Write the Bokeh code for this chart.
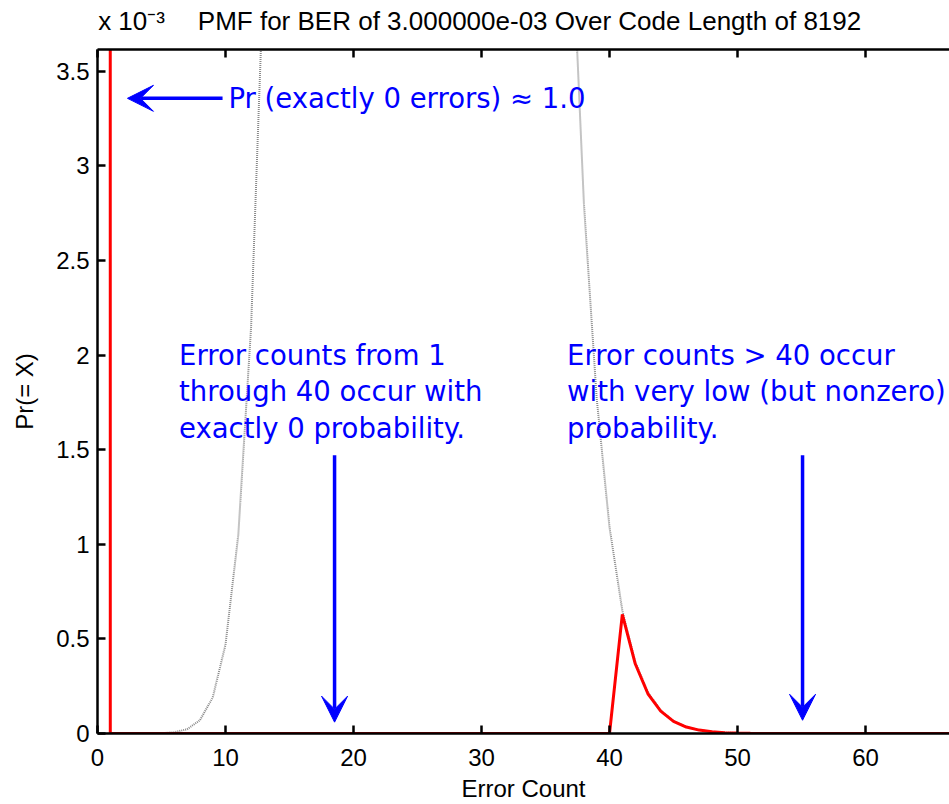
from bokeh.plotting import figure
from bokeh.models import (Range1d, LinearAxis, FixedTicker, CustomJSTickFormatter,
                          Label, Arrow, VeeHead)
from bokeh.embed import file_html
from bokeh.resources import INLINE

# ---------------- data ----------------
error_count = list(range(0, 68))

# grey dotted curve: full binomial PMF (values above the plot top are clipped)
binomial_pmf = [
    0.0, 0.0, 0.0, 0.0000001, 0.0000004, 0.0000016, 0.0000065, 0.0000227, 0.00007, 0.00019,
    0.00047, 0.00105, 0.00215, 0.00407, 0.00714, 0.0117, 0.0180, 0.0260, 0.0355, 0.0459,
    0.0564, 0.0660, 0.0737, 0.0787, 0.0806, 0.0793, 0.0750, 0.0682, 0.0599, 0.0507,
    0.0415, 0.0329, 0.0253, 0.0189, 0.0136, 0.00955, 0.00653, 0.00434, 0.00280, 0.00177,
    0.00109, 0.00065, 0.00038, 0.000218, 0.000122, 0.000066, 0.0000355, 0.0000185, 0.0000095, 0.0000048,
    0.0000023, 0.0000011, 0.0000005, 0.0000002, 0.0000001, 0.0, 0.0, 0.0, 0.0, 0.0,
    0.0, 0.0, 0.0, 0.0, 0.0, 0.0, 0.0, 0.0,
]

# red curve: PMF with 1..40 errors forced to zero
observed_pmf = [
    1.0, 0.0, 0.0, 0.0, 0.0, 0.0, 0.0, 0.0, 0.0, 0.0,
    0.0, 0.0, 0.0, 0.0, 0.0, 0.0, 0.0, 0.0, 0.0, 0.0,
    0.0, 0.0, 0.0, 0.0, 0.0, 0.0, 0.0, 0.0, 0.0, 0.0,
    0.0, 0.0, 0.0, 0.0, 0.0, 0.0, 0.0, 0.0, 0.0, 0.0,
    0.0, 0.00063, 0.00037, 0.00021, 0.000118, 0.000064, 0.000034, 0.000018, 0.0000092, 0.0000046,
    0.0000022, 0.0000011, 0.0000005, 0.0000002, 0.0000001, 0.0, 0.0, 0.0, 0.0, 0.0,
    0.0, 0.0, 0.0, 0.0, 0.0, 0.0, 0.0, 0.0,
]

x_ticks = [0, 10, 20, 30, 40, 50, 60]
y_ticks = [0, 0.0005, 0.001, 0.0015, 0.002, 0.0025, 0.003, 0.0035]

title_text = "PMF for BER of 3.000000e-03 Over Code Length of 8192"
exponent_text = "x 10\u207b\u00b3"
x_label = "Error Count"
y_label = "Pr(= X)"
note_zero = "Pr (exactly 0 errors) \u2248 1.0"
note_mid = ["Error counts from 1", "through 40 occur with", "exactly 0 probability."]
note_right = ["Error counts > 40 occur", "with very low (but nonzero)", "probability."]

# ---------------- figure ----------------
FONT = "Liberation Sans"
NOTE_FONT = "DejaVu Sans"
BLUE = "#0000ff"

p = figure(width=949, height=804, output_backend="svg", toolbar_location=None,
           title=None,
           x_range=Range1d(0, 66.56), y_range=Range1d(0, 0.003615),
           min_border_left=97, min_border_right=0, min_border_top=49, min_border_bottom=71)
p.background_fill_color = "white"
p.border_fill_color = "white"
p.outline_line_color = None
p.grid.visible = False

p.line(error_count, binomial_pmf, line_color="#8a8a8a", line_width=2, line_dash="1 1")
p.line(error_count, observed_pmf, line_color="#ff0000", line_width=3)


def style_axis(ax):
    ax.axis_line_color = "black"
    ax.axis_line_width = 2.5
    ax.major_tick_line_color = "black"
    ax.major_tick_line_width = 2.5
    ax.major_tick_in = 8
    ax.major_tick_out = 0
    ax.minor_tick_line_color = None
    ax.major_label_text_font = FONT
    ax.major_label_text_font_size = "24px"
    ax.major_label_text_color = "black"


xa = p.xaxis[0]
style_axis(xa)
xa.ticker = FixedTicker(ticks=x_ticks)
xa.major_label_standoff = 15
xa.axis_label = x_label
xa.axis_label_text_font = FONT
xa.axis_label_text_font_size = "24px"
xa.axis_label_text_font_style = "normal"
xa.axis_label_text_color = "black"
xa.axis_label_standoff = 6

ya = p.yaxis[0]
style_axis(ya)
ya.ticker = FixedTicker(ticks=y_ticks)
ya.formatter = CustomJSTickFormatter(code="return String(Math.round(tick*10000)/10);")
ya.major_label_standoff = 8
ya.axis_label = y_label
ya.axis_label_text_font = FONT
ya.axis_label_text_font_size = "24px"
ya.axis_label_text_font_style = "normal"
ya.axis_label_text_color = "black"
ya.axis_label_standoff = 15

# top frame edge: minor ticks give the inward tick marks, the two major
# "ticks" carry the exponent note and the title text
exp_pos = 2.66
title_pos = 33.75
top = LinearAxis(ticker=FixedTicker(ticks=[exp_pos, title_pos], minor_ticks=x_ticks))
top.axis_line_color = "black"
top.axis_line_width = 2.5
top.major_tick_line_color = None
top.major_tick_in = 0
top.major_tick_out = 0
top.minor_tick_line_color = "black"
top.minor_tick_line_width = 2.5
top.minor_tick_in = 8
top.minor_tick_out = 0
top.major_label_text_font = FONT
top.major_label_text_font_size = "26px"
top.major_label_text_color = "black"
top.major_label_standoff = 14
top.formatter = CustomJSTickFormatter(
    args=dict(exp_text=exponent_text, title_text=title_text),
    code="return tick < 10 ? exp_text : title_text;")
p.add_layout(top, "above")

# blue notes
p.add_layout(Label(x=10.23, y=0.003357, text=note_zero, text_font=NOTE_FONT,
                   text_font_size="27.5px", text_color=BLUE, text_baseline="alphabetic"))
line_y = [0.002, 0.001808, 0.001613]
for txt, yy in zip(note_mid, line_y):
    p.add_layout(Label(x=6.37, y=yy, text=txt, text_font=NOTE_FONT,
                       text_font_size="27.5px", text_color=BLUE, text_baseline="alphabetic"))
for txt, yy in zip(note_right, line_y):
    p.add_layout(Label(x=36.68, y=yy, text=txt, text_font=NOTE_FONT,
                       text_font_size="27.5px", text_color=BLUE, text_baseline="alphabetic"))

# blue arrows
def head():
    return VeeHead(size=26, fill_color=BLUE, line_color=BLUE, line_width=1)

p.add_layout(Arrow(end=head(), x_start=9.77, y_start=0.003357, x_end=2.34, y_end=0.003357,
                   line_color=BLUE, line_width=3.5))
p.add_layout(Arrow(end=head(), x_start=18.52, y_start=0.00147, x_end=18.52, y_end=0.00006,
                   line_color=BLUE, line_width=3.5))
p.add_layout(Arrow(end=head(), x_start=55.08, y_start=0.00147, x_end=55.08, y_end=0.00007,
                   line_color=BLUE, line_width=3.5))

open("out.html", "w").write(file_html(p, INLINE))
